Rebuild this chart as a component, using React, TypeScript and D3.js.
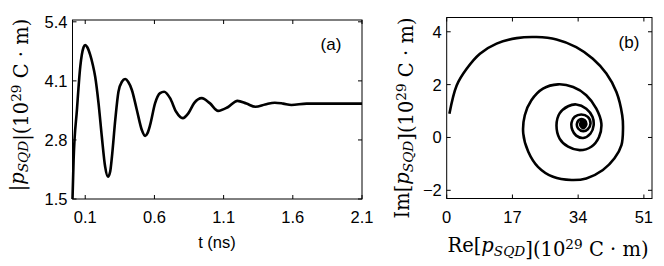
import React from "react";
import * as d3 from "d3";

const W = 664;
const H = 266;

// panel (a): |p_SQD| versus time
const tNs = [0.008, 0.016, 0.04, 0.064, 0.088, 0.1, 0.115, 0.136, 0.155, 0.172, 0.196, 0.22, 0.244, 0.264, 0.28, 0.293, 0.317, 0.34, 0.365, 0.389, 0.41, 0.437, 0.473, 0.509, 0.533, 0.55, 0.569, 0.605, 0.641, 0.67, 0.713, 0.757, 0.805, 0.846, 0.887, 0.942, 1.0, 1.06, 1.13, 1.2, 1.265, 1.33, 1.4, 1.47, 1.53, 1.59, 1.7, 1.8, 1.95, 2.1];
const absP = [1.5, 2.36, 3.46, 4.41, 4.84, 4.89, 4.84, 4.67, 4.45, 4.19, 3.61, 2.87, 2.21, 1.99, 2.1, 2.43, 3.24, 3.86, 4.08, 4.14, 4.08, 3.9, 3.46, 3.02, 2.89, 2.95, 3.13, 3.61, 3.83, 3.86, 3.72, 3.42, 3.28, 3.39, 3.61, 3.72, 3.61, 3.44, 3.52, 3.66, 3.6, 3.53, 3.58, 3.62, 3.6, 3.57, 3.6, 3.6, 3.6, 3.6];

// panel (b): Im versus Re
const reP = [0.7, 2.58, 5.16, 8.6, 12.9, 18.1, 23.2, 28.4, 33.5, 37.8, 41.3, 43.9, 45.4, 45.6, 45.2, 43.4, 40.4, 36.1, 32.3, 27.5, 23.6, 21.1, 19.8, 20.2, 21.9, 24.9, 28.8, 32.7, 36.1, 38.7, 40.0, 39.4, 37.4, 34.4, 31.4, 29.2, 28.4, 29.2, 31.4, 33.5, 36.1, 37.7, 38.0, 37.2, 35.3, 33.5, 32.5, 32.3, 33.1, 34.8, 36.5, 37.2, 36.5, 35.3, 34.0, 33.7, 34.6, 35.7, 36.1, 35.4, 34.7, 34.6, 35.2, 35.5, 35.2, 35.0, 35.2];
const imP = [0.9, 1.97, 2.6, 3.17, 3.55, 3.76, 3.8, 3.71, 3.42, 2.98, 2.42, 1.72, 0.84, 0.34, -0.29, -0.79, -1.23, -1.55, -1.61, -1.49, -1.11, -0.54, 0.15, 0.84, 1.41, 1.85, 2.01, 1.91, 1.6, 1.09, 0.53, 0.02, -0.35, -0.48, -0.35, -0.04, 0.46, 0.91, 1.18, 1.25, 1.09, 0.78, 0.46, 0.15, -0.02, 0.07, 0.28, 0.57, 0.78, 0.87, 0.78, 0.53, 0.31, 0.24, 0.34, 0.53, 0.69, 0.65, 0.49, 0.36, 0.42, 0.55, 0.62, 0.5, 0.42, 0.5, 0.52];

const xTicksA = [0.1, 0.6, 1.1, 1.6, 2.1];
const yTicksA = [1.5, 2.8, 4.1, 5.4];
const xTicksB = [0, 17, 34, 51];
const yTicksB = [-2, 0, 2, 4];

const sans = "Liberation Sans, Arial, sans-serif";
const serif = "DejaVu Serif, serif";
const TL = 4; // tick length

function Frame({ x, y, xt, yt, fmtX, fmtY }: any) {
  const [x0, x1] = x.range();
  const [y0, y1] = y.range();
  return (
    <g>
      <rect x={x0} y={y1} width={x1 - x0} height={y0 - y1} fill="none" stroke="#000" strokeWidth={1} />
      {xt.map((d: number) => (
        <g key={"x" + d}>
          <line x1={x(d)} x2={x(d)} y1={y0} y2={y0 - TL} stroke="#000" />
          <line x1={x(d)} x2={x(d)} y1={y1} y2={y1 + TL} stroke="#000" />
          <text x={x(d)} y={y0 + 24} textAnchor="middle" fontFamily={sans} fontSize={16.5}>{fmtX(d)}</text>
        </g>
      ))}
      {yt.map((d: number) => (
        <g key={"y" + d}>
          <line x1={x0} x2={x0 + TL} y1={y(d)} y2={y(d)} stroke="#000" />
          <line x1={x1} x2={x1 - TL} y1={y(d)} y2={y(d)} stroke="#000" />
          <text x={x0 - 5} y={y(d) + 6} textAnchor="end" fontFamily={sans} fontSize={16.5}>{fmtY(d)}</text>
        </g>
      ))}
    </g>
  );
}

function Unit() {
  return (
    <>
      <tspan>(10</tspan>
      <tspan fontSize="70%" dy={-7}>29</tspan>
      <tspan dy={7}>{"\u00a0C\u00a0·\u00a0m)"}</tspan>
    </>
  );
}

function Psqd() {
  return (
    <>
      <tspan fontStyle="italic">p</tspan>
      <tspan fontStyle="italic" fontSize="70%" dy={4}>SQD</tspan>
      <tspan dy={-4}></tspan>
    </>
  );
}

export default function App() {
  const xa = d3.scaleLinear().domain([0.008, 2.1]).range([72.5, 362]);
  const ya = d3.scaleLinear().domain([1.5, 5.44]).range([199, 20]);
  const xb = d3.scaleLinear().domain([0, 53.1]).range([446.7, 652]);
  const yb = d3.scaleLinear().domain([-2.31, 4.54]).range([198.5, 17.5]);

  const lineA = d3
    .line<number>()
    .x((_, i) => xa(tNs[i]))
    .y((d) => ya(d))
    .curve(d3.curveMonotoneX);
  const lineB = d3
    .line<number>()
    .x((_, i) => xb(reP[i]))
    .y((d) => yb(d))
    .curve(d3.curveCatmullRom.alpha(0.5));

  const centre = reP.length - 1;

  return (
    <svg width={W} height={H} style={{ position: "absolute", left: 0, top: 0, background: "#fff" }}>
      <Frame x={xa} y={ya} xt={xTicksA} yt={yTicksA} fmtX={d3.format(".1f")} fmtY={d3.format(".1f")} />
      <path d={lineA(absP) || ""} fill="none" stroke="#000" strokeWidth={2.6} strokeLinejoin="round" />
      <text x={331} y={50} textAnchor="middle" fontFamily={sans} fontSize={17}>(a)</text>
      <text x={217} y={248} textAnchor="middle" fontFamily={sans} fontSize={16.5}>t (ns)</text>
      <text transform="translate(24,105) rotate(-90)" textAnchor="middle" fontFamily={serif} fontSize={19.5}>
        <tspan>|</tspan>
        <Psqd />
        <tspan>|</tspan>
        <Unit />
      </text>

      <Frame x={xb} y={yb} xt={xTicksB} yt={yTicksB} fmtX={d3.format("d")} fmtY={(d: number) => d3.format("d")(d).replace("-", "−")} />
      <path d={lineB(imP) || ""} fill="none" stroke="#000" strokeWidth={2.6} strokeLinejoin="round" />
      <circle cx={xb(reP[centre])} cy={yb(imP[centre])} r={3} fill="#000" />
      <text x={629} y={48} textAnchor="middle" fontFamily={sans} fontSize={17}>(b)</text>
      <text transform="translate(409,118) rotate(-90)" textAnchor="middle" fontFamily={serif} fontSize={19.5}>
        <tspan>Im[</tspan>
        <Psqd />
        <tspan>]</tspan>
        <Unit />
      </text>
      <text x={548} y={252} textAnchor="middle" fontFamily={serif} fontSize={19.5}>
        <tspan>Re[</tspan>
        <Psqd />
        <tspan>]</tspan>
        <Unit />
      </text>
    </svg>
  );
}
